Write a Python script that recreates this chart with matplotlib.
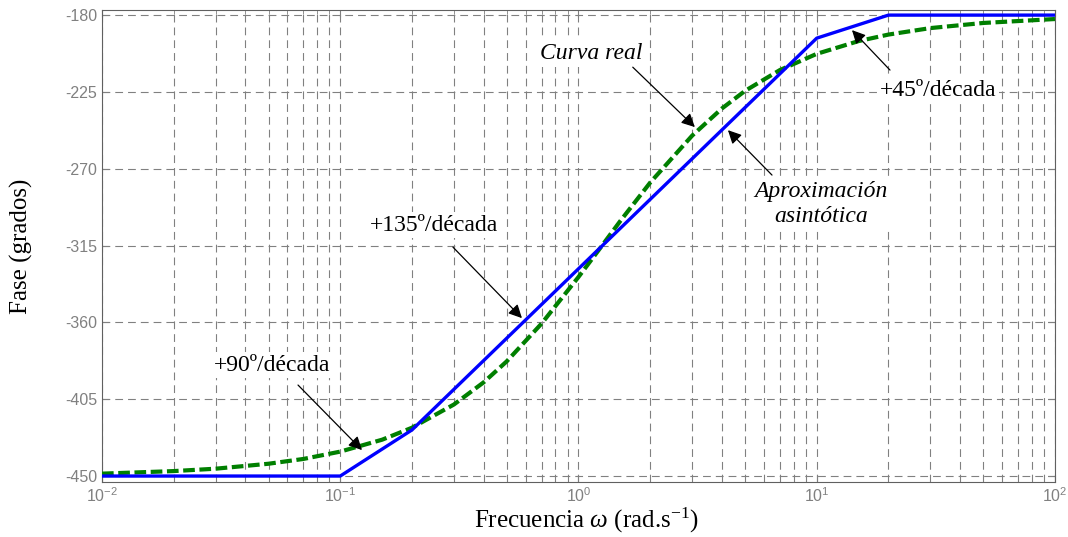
import matplotlib
matplotlib.use('Agg')
import matplotlib.pyplot as plt
from matplotlib.ticker import FixedLocator, LogLocator, NullFormatter

plt.rcParams['font.family'] = ['Liberation Serif', 'DejaVu Serif']
plt.rcParams['mathtext.fontset'] = 'custom'
plt.rcParams['mathtext.rm'] = 'Liberation Serif'
plt.rcParams['mathtext.it'] = 'Liberation Serif:italic'
plt.rcParams['mathtext.sf'] = 'Liberation Sans'

# asymptotic approximation (blue)
w_asin = [0.01, 0.1, 0.2, 10, 20, 100]
fase_asin = [-450, -450, -423, -193.5, -180, -180]

# real curve (green dashed)
w_real = [0.01, 0.02, 0.03, 0.05, 0.07, 0.1, 0.15, 0.2, 0.3, 0.4, 0.5, 0.7,
          1, 1.2, 1.5, 2, 3, 4, 5, 7, 10, 15, 20, 30, 50, 100]
fase_real = [-448.6, -447.1, -445.7, -442.8, -440.0, -435.7, -428.7, -421.7,
             -408.1, -395.1, -382.8, -360.7, -333.4, -318.7, -300.5, -278.1,
             -250.6, -234.7, -224.4, -212.2, -202.7, -195.2, -191.4, -187.6,
             -184.6, -182.3]

yticks = [-450, -405, -360, -315, -270, -225, -180]
xticks = [1e-2, 1e-1, 1e0, 1e1, 1e2]
xticklabels = [r'$\mathsf{10^{-2}}$', r'$\mathsf{10^{-1}}$', r'$\mathsf{10^{0}}$',
               r'$\mathsf{10^{1}}$', r'$\mathsf{10^{2}}$']

grey = '#808080'

fig = plt.figure(figsize=(10.68, 5.37), dpi=100)
ax = fig.add_axes([0.0955, 0.1024, 0.8923, 0.879])

ax.plot(w_real, fase_real, color='#007f00', lw=3.0, dashes=(2.8, 1.1), zorder=3)
ax.plot(w_asin, fase_asin, color='#0000ff', lw=2.4, zorder=4)

ax.set_xscale('log')
ax.set_xlim(0.01, 100)
ax.set_ylim(-453.5, -177)

ax.xaxis.set_major_locator(FixedLocator(xticks))
ax.xaxis.set_minor_locator(LogLocator(base=10, subs=range(2, 10)))
ax.xaxis.set_minor_formatter(NullFormatter())
ax.set_xticklabels(xticklabels)
ax.yaxis.set_major_locator(FixedLocator(yticks))
ax.set_yticklabels([str(v) for v in yticks], family='Liberation Sans')

ax.tick_params(which='both', direction='in', top=True, right=True,
               colors=grey, labelsize=11.5)
ax.tick_params(which='major', length=5)
ax.tick_params(which='minor', length=3)
for sp in ax.spines.values():
    sp.set_color('#606060')

ax.grid(True, which='major', axis='both', color=grey, lw=0.8, dashes=(7, 4.5))
ax.grid(True, which='minor', axis='x', color=grey, lw=0.8, dashes=(7, 4.5))

ax.set_xlabel(r'Frecuencia $\omega$ (rad.s$^{-1}$)', fontsize=18)
ax.set_ylabel('Fase (grados)', fontsize=18)
ax.xaxis.set_label_coords(0.508, -0.05)
ax.yaxis.set_label_coords(-0.072, 0.5)

box = dict(facecolor='white', edgecolor='none', pad=2)
arrow = dict(arrowstyle='-|>', color='black', lw=0.9, mutation_scale=20,
             shrinkA=0, shrinkB=0)
fs = 17

ax.text(1.13, -202.3, 'Curva real', style='italic', fontsize=fs,
        ha='center', va='center', bbox=box, zorder=5)
ax.annotate('', xy=(3.08, -245.6), xytext=(1.69, -210.5), arrowprops=arrow, zorder=6)

ax.text(32.3, -223.9, '+45º/década', fontsize=fs, ha='center', va='center',
        bbox=box, zorder=5)
ax.annotate('', xy=(14.06, -188.8), xytext=(20.3, -212.2), arrowprops=arrow, zorder=6)

ax.text(10.42, -290.7, 'Aproximación\nasintótica', style='italic', fontsize=fs,
        ha='center', va='center', linespacing=1.2, bbox=box, zorder=5)
ax.annotate('', xy=(4.24, -247.4), xytext=(6.49, -273.7), arrowprops=arrow, zorder=6)

ax.text(0.2474, -303.0, '+135º/década', fontsize=fs, ha='center', va='center',
        bbox=box, zorder=5)
ax.annotate('', xy=(0.579, -357.5), xytext=(0.2972, -315.9), arrowprops=arrow, zorder=6)

ax.text(0.0517, -385.0, '+90º/década', fontsize=fs, ha='center', va='center',
        bbox=box, zorder=5)
ax.annotate('', xy=(0.1234, -434.8), xytext=(0.0665, -396.7), arrowprops=arrow, zorder=6)

fig.savefig('out.png', dpi=100)
